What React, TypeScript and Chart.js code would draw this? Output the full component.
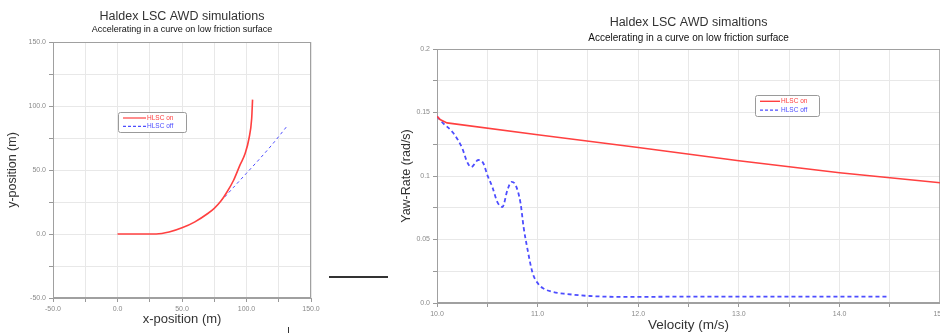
import React, { useEffect, useRef } from "react";
import { Chart, registerables } from "chart.js";

Chart.register(...registerables);

const FONT = "'Liberation Sans', Arial, sans-serif";

const titleText = "Haldex LSC AWD simulations";
const titleTextRight = "Haldex LSC AWD simaltions";
const subtitleText = "Accelerating in a curve on low friction surface";
const seriesNames = ["HLSC on", "HLSC off"];

// Left chart: trajectory
const posOnX = [0, 30, 40, 50, 60, 70, 75, 80, 85, 90, 95, 99, 102, 104, 104.7];
const posOnY = [0, 0, 1.5, 4.8, 9.5, 16, 20, 25.5, 33, 42, 54, 63, 75, 90, 105];
const posOffX = [80, 85, 90, 100, 110, 120, 132];
const posOffY = [25.5, 31, 36.5, 47.5, 58.5, 70, 85];

// Right chart: yaw rate vs velocity
const velOn = [10.0, 10.03, 10.1, 11, 12, 13, 14, 15];
const yawOn = [0.147, 0.1445, 0.1418, 0.1325, 0.1225, 0.112, 0.1025, 0.0947];
const velOff = [10.0, 10.06, 10.16, 10.25, 10.3, 10.34, 10.41, 10.46, 10.5, 10.55, 10.6, 10.65, 10.7, 10.74, 10.78, 10.83, 10.86, 10.9, 10.95, 11.0, 11.05, 11.15, 11.29, 11.52, 11.85, 12.5, 13.5, 14.48];
const yawOff = [0.147, 0.1417, 0.134, 0.122, 0.111, 0.107, 0.1126, 0.11, 0.1008, 0.0913, 0.0795, 0.0756, 0.089, 0.0953, 0.093, 0.0787, 0.06, 0.042, 0.0236, 0.0157, 0.0118, 0.0087, 0.0071, 0.0055, 0.0048, 0.005, 0.005, 0.005];

const RED = "#ff4040";
const BLUE = "#4d4dff";

const zip = (xs: number[], ys: number[]) => xs.map((x, i) => ({ x, y: ys[i] }));

const framePlugin = {
  id: "frame",
  beforeDatasetsDraw(chart: any) {
    const { ctx, chartArea: a } = chart;
    ctx.save();
    ctx.strokeStyle = "#a0a0a0";
    ctx.lineWidth = 1;
    ctx.strokeRect(a.left + 0.5, a.top + 0.5, a.right - a.left - 1, a.bottom - a.top - 1);
    ctx.restore();
  },
  afterDraw(chart: any) {
    const o = chart.options.plugins.frame;
    const { ctx, chartArea: a } = chart;
    ctx.save();
    ctx.fillStyle = "#333";
    ctx.textAlign = "center";
    ctx.textBaseline = "middle";
    const cx = (a.left + a.right) / 2;
    ctx.font = `${o.titleSize}px ${FONT}`;
    ctx.fillText(o.title, cx, a.top - o.titleOff);
    ctx.fillStyle = "#111";
    ctx.font = `${o.subSize}px ${FONT}`;
    ctx.fillText(o.subtitle, cx, a.top - o.subOff);
    // legend
    const L = o.legend;
    ctx.fillStyle = "#fff";
    ctx.strokeStyle = "#9a9a9a";
    ctx.lineWidth = 1;
    ctx.beginPath();
    (ctx as any).roundRect(L.x + 0.5, L.y + 0.5, L.w, L.h, 2);
    ctx.fill();
    ctx.stroke();
    ctx.font = `${L.font}px ${FONT}`;
    ctx.textAlign = "left";
    const rows = [
      { c: RED, dash: [], t: seriesNames[0], y: L.y + L.h * 0.3 },
      { c: BLUE, dash: L.dash, t: seriesNames[1], y: L.y + L.h * 0.72 },
    ];
    rows.forEach((r) => {
      ctx.strokeStyle = r.c;
      ctx.lineWidth = L.lw;
      ctx.setLineDash(r.dash);
      ctx.beginPath();
      ctx.moveTo(L.x + 5, r.y);
      ctx.lineTo(L.x + L.line, r.y);
      ctx.stroke();
      ctx.setLineDash([]);
      ctx.fillStyle = r.c;
      ctx.fillText(r.t, L.x + L.line + 1, r.y);
    });
    ctx.restore();
  },
};

function makeAxis(opts: any) {
  return {
    type: "linear",
    min: opts.min,
    max: opts.max,
    afterFit(s: any) {
      if (opts.width !== undefined) s.width = opts.width;
      if (opts.height !== undefined) s.height = opts.height;
    },
    afterBuildTicks(s: any) {
      const t = [];
      for (let v = opts.min; v <= opts.max + 1e-9; v += opts.step) t.push({ value: Math.round(v * 10000) / 10000 });
      s.ticks = t;
    },
    ticks: {
      autoSkip: false,
      maxRotation: 0,
      color: "#8a8a8a",
      font: { size: 7, family: FONT },
      padding: 3,
      callback: opts.label,
    },
    grid: { color: "#e8e8e8", tickColor: "#999", tickLength: 4, lineWidth: 1 },
    border: { color: "#a0a0a0" },
    title: {
      display: true,
      text: opts.title,
      color: "#333",
      font: { size: opts.titleSize || 12.5, family: FONT },
      padding: opts.titlePad,
    },
  };
}

function useChart(ref: React.RefObject<HTMLCanvasElement | null>, cfg: () => any) {
  useEffect(() => {
    if (!ref.current) return;
    const c = new Chart(ref.current, cfg());
    return () => c.destroy();
  }, []);
}

export default function App() {
  const leftRef = useRef<HTMLCanvasElement | null>(null);
  const rightRef = useRef<HTMLCanvasElement | null>(null);

  useChart(leftRef, () => ({
    type: "scatter",
    data: {
      datasets: [
        { label: seriesNames[0], data: zip(posOnX, posOnY), showLine: true, borderColor: RED, borderWidth: 1.6, pointRadius: 0, cubicInterpolationMode: "monotone" },
        { label: seriesNames[1], data: zip(posOffX, posOffY), showLine: true, borderColor: BLUE, borderWidth: 1, borderDash: [3, 3], pointRadius: 0, cubicInterpolationMode: "monotone" },
      ],
    },
    options: {
      animation: false,
      responsive: false,
      layout: { padding: { top: 42, right: 19, left: 0, bottom: 0 } },
      plugins: {
        legend: { display: false },
        tooltip: { enabled: false },
        frame: {
          title: titleText, subtitle: subtitleText, titleSize: 12.5, subSize: 9, titleOff: 25, subOff: 12,
          legend: { x: 118, y: 112, w: 68, h: 20, font: 6.5, line: 28, lw: 1.2, dash: [3, 2] },
        },
      },
      scales: {
        x: makeAxis({ min: -50, max: 150, step: 25, height: 35, title: "x-position (m)", titleSize: 13, titlePad: { top: 0, bottom: 6 }, label: (v: number) => (Math.abs(v % 50) < 1e-6 ? v.toFixed(1) : "") }),
        y: makeAxis({ min: -50, max: 150, step: 25, width: 53, title: "y-position (m)", titleSize: 12.5, titlePad: { top: 5, bottom: 0 }, label: (v: number) => (Math.abs(v % 50) < 1e-6 ? v.toFixed(1) : "") }),
      },
    },
    plugins: [framePlugin],
  }));

  useChart(rightRef, () => ({
    type: "scatter",
    data: {
      datasets: [
        { label: seriesNames[0], data: zip(velOn, yawOn), showLine: true, borderColor: RED, borderWidth: 1.6, pointRadius: 0, tension: 0 },
        { label: seriesNames[1], data: zip(velOff, yawOff), showLine: true, borderColor: BLUE, borderWidth: 1.8, borderDash: [4, 3], pointRadius: 0, cubicInterpolationMode: "monotone" },
      ],
    },
    options: {
      animation: false,
      responsive: false,
      layout: { padding: { top: 49, right: 6, left: 0, bottom: 0 } },
      plugins: {
        legend: { display: false },
        tooltip: { enabled: false },
        frame: {
          title: titleTextRight, subtitle: subtitleText, titleSize: 12.5, subSize: 10, titleOff: 26, subOff: 11,
          legend: { x: 365, y: 95, w: 64, h: 21, font: 6.5, line: 25, lw: 1.4, dash: [3, 2] },
        },
      },
      scales: {
        x: makeAxis({ min: 10, max: 15, step: 0.5, height: 30, title: "Velocity (m/s)", titleSize: 13.5, titlePad: { top: 0, bottom: 0 }, label: (v: number) => (Math.abs(v - Math.round(v)) < 1e-6 ? v.toFixed(1) : "") }),
        y: makeAxis({
          min: 0, max: 0.2, step: 0.025, width: 47, title: "Yaw-Rate (rad/s)", titleSize: 12.5, titlePad: { top: 9, bottom: 0 },
          label: (v: number) => {
            const m = Math.round(v * 1000);
            if (m % 50 !== 0) return "";
            return m === 0 ? "0.0" : String(m / 1000);
          },
        }),
      },
    },
    plugins: [framePlugin],
  }));

  return (
    <div style={{ position: "absolute", left: 0, top: 0, width: 940, height: 333, overflow: "hidden", background: "#fff" }}>
      <canvas ref={leftRef} width={330} height={333} style={{ position: "absolute", left: 0, top: 0, width: 330, height: 333 }} />
      <canvas ref={rightRef} width={560} height={333} style={{ position: "absolute", left: 390, top: 0, width: 560, height: 333 }} />
      <div style={{ position: "absolute", left: 329, top: 276, width: 59, height: 2, background: "#333" }} />
      <div style={{ position: "absolute", left: 288, top: 327, width: 1, height: 6, background: "#333" }} />
    </div>
  );
}
